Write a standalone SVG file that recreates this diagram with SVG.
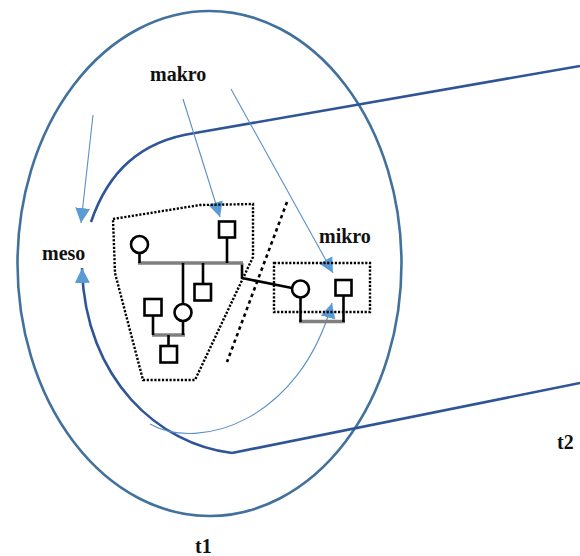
<svg xmlns="http://www.w3.org/2000/svg" width="580" height="556" viewBox="0 0 580 556">
<style>
.lbl{font-family:"Liberation Serif","Times New Roman",serif;font-weight:bold;font-size:20px;fill:#111}
.thin{fill:none;stroke:#5B8FC8;stroke-width:1.1}
.dark{fill:none;stroke:#2F5597;stroke-width:2.6}
.outer{fill:none;stroke:#41719C;stroke-width:2.6}
.dot{fill:none;stroke:#000;stroke-width:2.4;stroke-dasharray:2.2 1.6}
.sym{fill:#fff;stroke:#000;stroke-width:2.6}
.ln{stroke:#000;stroke-width:2.6;fill:none}
.gr{stroke:#808080;stroke-width:3.5;fill:none}
</style>
<defs>
<marker id="ah" markerUnits="userSpaceOnUse" markerWidth="16" markerHeight="16" viewBox="0 0 16 16" refX="15" refY="8" orient="auto">
<path d="M0,0.5 L15,8 L0,15.5 z" fill="#5B9BD5"/>
</marker>
</defs>
<rect width="580" height="556" fill="#fff"/>

<g id="t1-ellipse">
<ellipse class="outer" cx="209.5" cy="263.5" rx="192" ry="252.5"/>
</g>

<g id="connectors">
<path class="dark" d="M91,222 C108,172 140,141 195,133 L580,66"/>
<path class="dark" d="M580,383 L232,453"/>
<path class="dark" d="M232,453 C160,445 85,380 82,268" marker-end="url(#ah)"/>
<path class="thin" d="M93,115 L81,223" marker-end="url(#ah)"/>
<path class="thin" d="M183,99 L220,217" marker-end="url(#ah)"/>
<path class="thin" d="M231,89 L333,273" marker-end="url(#ah)"/>
<path class="thin" d="M150,424 C200,452 300,420 332,303" marker-end="url(#ah)"/>
<path class="ln" d="M242,263 L242,278 L292,288"/>
</g>

<g id="makro-boundary">
<polygon class="dot" points="113,219 200,205 253,204 253,257 195,380 143,380 115,273"/>
<line x1="287" y1="202" x2="227" y2="362" stroke="#000" stroke-width="2.6" stroke-dasharray="3.5 3.5"/>
</g>

<g id="family-makro">
<path class="gr" d="M138,263 L243,263"/>
<path class="gr" d="M152,335 L185,335"/>
<path class="ln" d="M139.5,253 L139.5,263"/>
<path class="ln" d="M227,237 L227,263"/>
<path class="ln" d="M183,263 L183,304"/>
<path class="ln" d="M203,263 L203,284"/>
<path class="ln" d="M153,315 L153,335"/>
<path class="ln" d="M183,321 L183,335"/>
<path class="ln" d="M168.5,335 L168.5,346"/>
<circle class="sym" cx="139.5" cy="244.5" r="8.5"/>
<rect class="sym" x="219" y="221.5" width="16" height="16"/>
<rect class="sym" x="194.5" y="284" width="16.5" height="16.5"/>
<rect class="sym" x="144.5" y="299" width="17" height="16.5"/>
<circle class="sym" cx="183" cy="312.5" r="8.5"/>
<rect class="sym" x="160.5" y="346" width="16.5" height="16.5"/>
</g>

<g id="mikro-box">
<rect class="dot" x="274" y="263" width="96" height="49"/>
</g>

<g id="family-mikro">
<path class="gr" d="M299,321.5 L345,321.5"/>
<path class="ln" d="M300.5,297 L300.5,322"/>
<path class="ln" d="M343.5,295 L343.5,322"/>
<circle class="sym" cx="300.5" cy="289" r="8.5"/>
<rect class="sym" x="335.5" y="280" width="16" height="15.5"/>
</g>

<g id="label-makro"><text class="lbl" x="150" y="81">makro</text></g>
<g id="label-meso"><text class="lbl" x="42" y="260">meso</text></g>
<g id="label-mikro"><text class="lbl" x="319" y="243">mikro</text></g>
<g id="label-t1"><text class="lbl" x="195" y="553">t1</text></g>
<g id="label-t2"><text class="lbl" x="557" y="449">t2</text></g>
</svg>
